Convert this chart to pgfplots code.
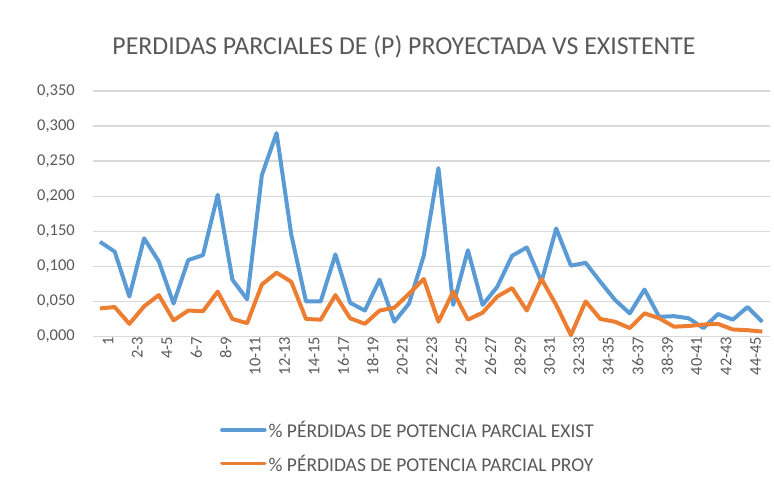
\documentclass[border=0pt]{standalone}
\usepackage{pgfplots}
\pgfplotsset{compat=1.18}
\usepackage{fontspec}
\setmainfont{Carlito}
\definecolor{txt}{HTML}{595959}
\definecolor{gridc}{HTML}{D9D9D9}
\definecolor{cblue}{HTML}{5B9BD5}
\definecolor{corange}{HTML}{ED7D31}
\pgfplotstableread{
idx exist proy
0 0.135 0.040
1 0.121 0.042
2 0.057 0.018
3 0.140 0.043
4 0.107 0.059
5 0.047 0.023
6 0.109 0.037
7 0.116 0.036
8 0.202 0.064
9 0.081 0.025
10 0.053 0.019
11 0.230 0.074
12 0.290 0.091
13 0.145 0.078
14 0.050 0.025
15 0.050 0.024
16 0.117 0.059
17 0.048 0.026
18 0.037 0.018
19 0.081 0.037
20 0.021 0.041
21 0.047 0.061
22 0.115 0.082
23 0.240 0.021
24 0.045 0.064
25 0.123 0.024
26 0.045 0.034
27 0.071 0.057
28 0.115 0.069
29 0.127 0.037
30 0.078 0.082
31 0.154 0.045
32 0.101 0.002
33 0.105 0.050
34 0.078 0.025
35 0.052 0.021
36 0.033 0.012
37 0.067 0.033
38 0.028 0.026
39 0.029 0.014
40 0.026 0.015
41 0.012 0.017
42 0.032 0.018
43 0.024 0.010
44 0.042 0.009
45 0.021 0.007
}\datatable
\begin{document}
\begin{tikzpicture}[x=1pt,y=1pt]
\useasboundingbox (0,0) rectangle (774,492);
\node[text=txt, font=\fontsize{25.8}{30}\selectfont] at (404,445) {PERDIDAS PARCIALES DE (P) PROYECTADA VS EXISTENTE};
\begin{axis}[
  at={(92.6pt,155.5pt)}, anchor=south west,
  scale only axis, width=677pt, height=245.5pt,
  xmin=-0.5, xmax=45.5, ymin=0, ymax=0.35,
  ytick={0,0.05,0.1,0.15,0.2,0.25,0.3,0.35},
  xtick={0,2,...,44},
  xticklabels={1,2-3,4-5,6-7,8-9,10-11,12-13,14-15,16-17,18-19,20-21,22-23,24-25,26-27,28-29,30-31,32-33,34-35,36-37,38-39,40-41,42-43,44-45},
  xticklabel style={rotate=90, anchor=east, inner sep=0pt, xshift=0pt, yshift=-8pt},
  yticklabel style={inner sep=0pt, xshift=-17.6pt, anchor=east},
  ticklabel style={text=txt, font=\fontsize{16.5}{18}\selectfont},
  /pgf/number format/.cd, fixed, fixed zerofill, precision=3, use comma, assume math mode=true,
  /pgfplots/.cd,
  axis line style={draw=none},
  major tick length=0pt,
  ymajorgrids, grid style={gridc, line width=1.3pt},
  clip=false,
  legend style={at={(0.188,-0.335)}, anchor=north west, draw=none, fill=none,
    font=\fontsize{19.5}{22}\selectfont, text=txt, row sep=12pt, inner sep=0pt,
    cells={anchor=west}},
  legend image code/.code={\draw[#1, line width=3.5pt, line cap=round] (0pt,0pt) -- (43pt,0pt);},
]
\addplot[cblue, line width=4pt, line join=round] table[x=idx, y=exist] {\datatable};
\addlegendentry{\% PÉRDIDAS DE POTENCIA PARCIAL EXIST}
\addplot[corange, line width=4pt, line join=round] table[x=idx, y=proy] {\datatable};
\addlegendentry{\% PÉRDIDAS DE POTENCIA PARCIAL PROY}
\end{axis}
\end{tikzpicture}
\end{document}
